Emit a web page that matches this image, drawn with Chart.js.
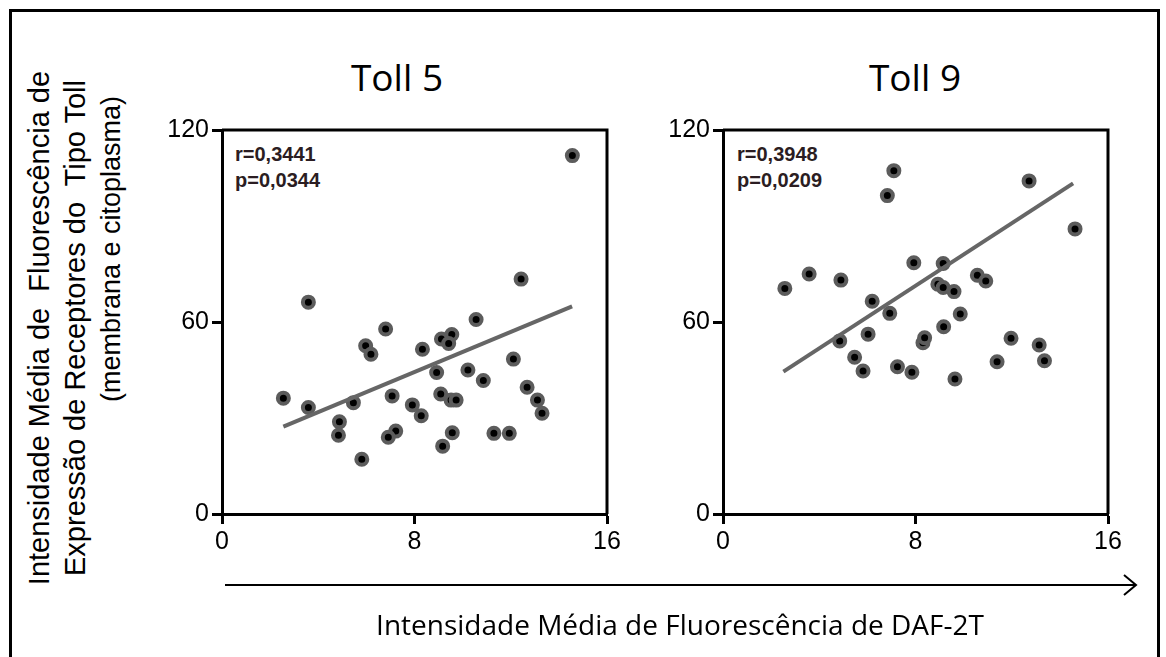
<!DOCTYPE html>
<html>
<head>
<meta charset="utf-8">
<title>Toll 5 / Toll 9 x DAF-2T</title>
<script src="https://cdn.jsdelivr.net/npm/chart.js@4.4.0/dist/chart.umd.min.js"></script>
<style>
  body { margin: 0; background: #fff; width: 1166px; height: 657px; overflow: hidden; position: relative; font-family: "Liberation Sans", Arial, sans-serif; }
  #frame { position: absolute; left: 9px; top: 9px; width: 1151px; height: 680px; border: 3px solid #000; box-sizing: border-box; }
  canvas { position: absolute; }
  .title { position: absolute; top: 53px; width: 300px; text-align: center; font-family: "Open Sans", sans-serif; font-size: 37px; line-height: 48px; color: #000; }
  .stats { position: absolute; font-weight: bold; font-size: 20px; line-height: 26px; color: #2b1d22; }
  .ylab { position: absolute; white-space: pre; font-size: 29px; color: #000; transform: translate(-50%, -50%) rotate(-90deg); }
  #xlab { position: absolute; left: 330px; top: 605px; width: 700px; text-align: center; font-family: "Open Sans", sans-serif; font-size: 28px; white-space: nowrap; }
  svg { position: absolute; left: 0; top: 0; }
</style>
</head>
<body>
<div id="frame"></div>

<div class="ylab" style="left:39px; top:328px;">Intensidade Média de  Fluorescência de</div>
<div class="ylab" style="left:75px; top:328px;">Expressão de Receptores do  Tipo Toll</div>
<div class="ylab" style="left:111px; top:249px; font-size:27px;">(membrana e citoplasma)</div>

<div class="title" style="left:247px;">Toll 5</div>
<div class="title" style="left:765px;">Toll 9</div>

<div class="stats" style="left:235px; top:141px;">r=0,3441<br>p=0,0344</div>
<div class="stats" style="left:737px; top:141px;">r=0,3948<br>p=0,0209</div>

<canvas id="toll5" width="500" height="470" style="left:140px; top:100px;"></canvas>
<canvas id="toll9" width="500" height="470" style="left:641px; top:100px;"></canvas>

<svg width="1166" height="657">
  <line x1="225" y1="585" x2="1135" y2="585" stroke="#000" stroke-width="2"/>
  <polyline points="1124,575 1136,585 1124,595" fill="none" stroke="#000" stroke-width="2"/>
</svg>
<div id="xlab">Intensidade Média de Fluorescência de DAF-2T</div>

<script>
// tick values shared by both panels
const xTicks = [0, 8, 16];
const yTicks = [0, 60, 120];

// Toll 5 vs DAF-2T
const toll5X = [14.56, 12.43, 3.59, 10.56, 6.80, 9.12, 9.55, 9.42, 5.97, 6.19, 8.33, 12.11,
  8.92, 10.22, 10.86, 12.68, 13.11, 13.30, 2.55, 3.59, 5.46, 7.07, 7.91, 8.28,
  9.09, 9.52, 9.73, 4.88, 4.84, 7.22, 6.91, 9.57, 9.17, 11.30, 11.94, 5.81];
const toll5Y = [112.0, 73.4, 66.2, 60.8, 57.8, 54.7, 56.1, 53.3, 52.6, 49.9, 51.5, 48.4,
  44.2, 45.0, 41.7, 39.6, 35.6, 31.5, 36.2, 33.3, 34.8, 36.9, 34.1, 30.7,
  37.5, 35.6, 35.6, 28.8, 24.6, 25.9, 24.0, 25.4, 21.2, 25.2, 25.2, 17.1];
const toll5FitX = [2.55, 14.55];
const toll5FitY = [27.3, 64.9];

// Toll 9 vs DAF-2T
const toll9X = [7.10, 6.83, 12.72, 14.63, 7.93, 9.15, 3.58, 4.90, 2.57, 10.57, 10.92,
  8.93, 9.15, 9.60, 6.20, 6.93, 9.86, 9.17, 6.03, 4.85, 8.31, 8.38, 11.97, 13.14,
  5.47, 5.82, 7.25, 7.85, 9.64, 11.39, 13.36];
const toll9Y = [107.3, 99.5, 104.1, 89.1, 78.5, 78.3, 75.0, 73.1, 70.5, 74.6, 72.8,
  71.8, 70.8, 69.5, 66.5, 62.7, 62.5, 58.5, 56.2, 54.1, 53.5, 55.1, 54.9, 52.8,
  49.0, 44.7, 46.0, 44.3, 42.2, 47.6, 47.9];
const toll9FitX = [2.51, 14.55];
const toll9FitY = [44.5, 103.3];

const toPoints = (xs, ys) => xs.map((x, i) => ({ x: x, y: ys[i] }));

// closes the plot area with a top and right border
const boxPlugin = {
  id: 'box',
  afterDatasetsDraw(chart) {
    const { ctx, chartArea: a } = chart;
    ctx.save();
    ctx.strokeStyle = '#000';
    ctx.lineWidth = 3;
    ctx.beginPath();
    ctx.moveTo(a.left, a.top);
    ctx.lineTo(a.right, a.top);
    ctx.lineTo(a.right, a.bottom);
    ctx.stroke();
    ctx.restore();
  }
};

function axis(ticks, extra) {
  return Object.assign({
    min: ticks[0],
    max: ticks[ticks.length - 1],
    afterBuildTicks: (scale) => { scale.ticks = ticks.map(v => ({ value: v })); },
    border: { display: true, color: '#000', width: 3 },
    grid: { drawOnChartArea: false, drawTicks: true, tickLength: 10, tickWidth: 3, tickColor: '#000' },
    ticks: { color: '#000', font: { family: 'Liberation Sans', size: 25 } }
  }, extra);
}

function makePanel(id, xs, ys, fitX, fitY) {
  new Chart(document.getElementById(id), {
    type: 'scatter',
    data: {
      datasets: [{
        data: toPoints(xs, ys),
        pointRadius: 5.5,
        pointBorderWidth: 4,
        pointBackgroundColor: '#000',
        pointBorderColor: '#5c5c5c',
        order: 1
      }, {
        data: toPoints(fitX, fitY),
        showLine: true,
        pointRadius: 0,
        borderColor: '#666',
        borderWidth: 4,
        order: 0
      }]
    },
    options: {
      responsive: false,
      animation: false,
      layout: { padding: { top: 30, right: 33, left: 0, bottom: 0 } },
      plugins: { legend: { display: false }, tooltip: { enabled: false } },
      scales: {
        x: axis(xTicks, { afterFit: (s) => { s.height = 56; } }),
        y: axis(yTicks, { afterFit: (s) => { s.width = 82; } })
      }
    },
    plugins: [boxPlugin]
  });
}

makePanel('toll5', toll5X, toll5Y, toll5FitX, toll5FitY);
makePanel('toll9', toll9X, toll9Y, toll9FitX, toll9FitY);
</script>
</body>
</html>
